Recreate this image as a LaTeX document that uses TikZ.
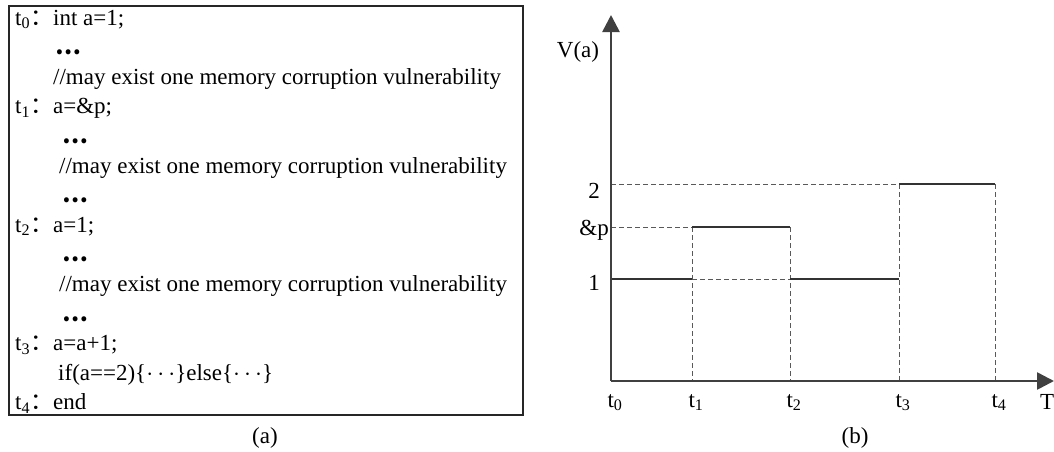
\documentclass[tikz,border=0pt]{standalone}
\usepackage{fontspec}
\setmainfont{Liberation Serif}
\newfontfamily\cjk{Noto Sans CJK SC}
\newfontfamily\cjkdots{Noto Sans CJK JP}
\usetikzlibrary{arrows.meta}
\tikzset{
codeline/.style={
 anchor=base west,
 inner sep=0pt,
 font=\fontsize{23}{27}\selectfont
 },
etiq/.style={
 inner sep=0pt,
 font=\fontsize{23}{27}\selectfont
 },
cadre/.style={
 draw=black!85,
 line width=1.4pt
 },
axe/.style={
 draw=black!75,
 line width=2.6pt,
 -{Triangle[length=17pt,width=17pt]}
 },
palier/.style={
 draw=black!80,
 line width=2.2pt
 },
repere/.style={
 draw=black!65,
 line width=1pt,
 dash pattern=on 5pt off 3pt
 }
}
\newcommand{\tcode}[1]{t\textsubscript{#1}{\cjk ：}}
\newcommand{\pts}{{\cjkdots\bfseries …}}
\newcommand{\ipts}{$\cdots$}

\begin{document}
\begin{tikzpicture}[x=1pt,y=-1pt]
\useasboundingbox (0,0) rectangle (1054,451);
% (a) code
\draw[cadre] (9,6) rectangle (523,415);
\node[codeline] (l0) at (15,25) {\tcode{0}int a=1;};
\node[codeline] (l1) at (55,54.6) {\pts};
\node[codeline] (l2) at (53,84.2) {//may exist one memory corruption vulnerability};
\node[codeline] (l3) at (15,113.8) {\tcode{1}a=\&p;};
\node[codeline] (l4) at (62,143.4) {\pts};
\node[codeline] (l5) at (59,173) {//may exist one memory corruption vulnerability};
\node[codeline] (l6) at (62,202.6) {\pts};
\node[codeline] (l7) at (15,232.2) {\tcode{2}a=1;};
\node[codeline] (l8) at (62,261.8) {\pts};
\node[codeline] (l9) at (59,291.4) {//may exist one memory corruption vulnerability};
\node[codeline] (l10) at (62,321) {\pts};
\node[codeline] (l11) at (15,350.6) {\tcode{3}a=a+1;};
\node[codeline] (l12) at (58,380.2) {if(a==2)\{\ipts\}else\{\ipts\}};
\node[codeline] (l13) at (15,409.8) {\tcode{4}end};
\node[etiq] (capa) at (265,438) {(a)};
% (b) V(a) over T
\coordinate (o) at (611,381);
\coordinate (ytop) at (611,15);
\coordinate (xend) at (1054,381);
\coordinate (v1) at (611,279);
\coordinate (vp) at (611,227);
\coordinate (v2) at (611,184);
\foreach \n/\x in {0/611,1/692,2/790,3/899,4/995}
 \coordinate (t\n) at (\x,381);
% guides
\draw[repere] (v2) -- (t3 |- v2);
\draw[repere] (vp) -- (t1 |- vp);
\draw[repere] (t1 |- v1) -- (t2 |- v1);
\draw[repere] (t1 |- vp) -- (t1);
\draw[repere] (t2 |- vp) -- (t2);
\draw[repere] (t3 |- v2) -- (t3);
\draw[repere] (t4 |- v2) -- (t4);
% values
\draw[palier] (v1) -- (t1 |- v1);
\draw[palier] (t1 |- vp) -- (t2 |- vp);
\draw[palier] (t2 |- v1) -- (t3 |- v1);
\draw[palier] (t3 |- v2) -- (t4 |- v2);
% axes
\draw[axe] (o) -- (ytop);
\draw[axe] (o) -- (xend);
\node[etiq] (va) at (578,52) {V(a)};
\node[etiq, anchor=base east] (n2) at (600,198) {2};
\node[etiq, anchor=base east] (np) at (609,235) {\&p};
\node[etiq, anchor=base east] (n1) at (600,290) {1};
\foreach \n in {0,...,4}
 \node[etiq, anchor=base] (lt\n) at ([xshift=4pt,yshift=-26pt]t\n) {t\textsubscript{\n}};
\node[etiq, anchor=base west] (lT) at (1040,409) {T};
\node[etiq] (capb) at (855,438) {(b)};
\end{tikzpicture}
\end{document}
